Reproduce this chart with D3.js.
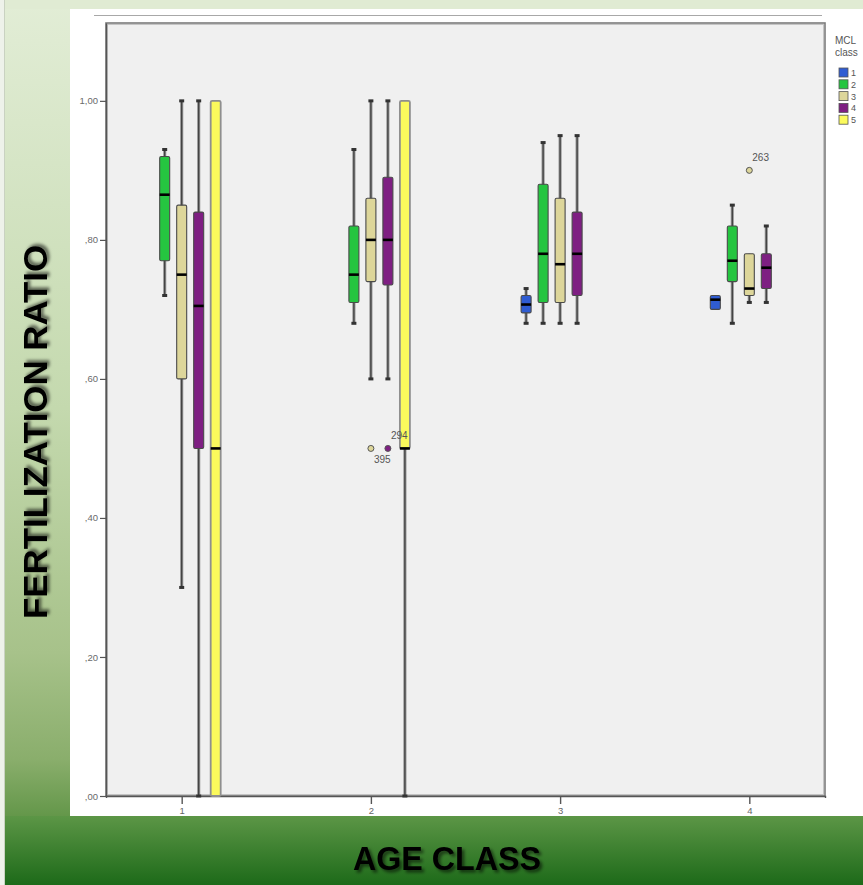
<!DOCTYPE html>
<html>
<head>
<meta charset="utf-8">
<script src="https://cdn.jsdelivr.net/npm/d3@7"></script>
<style>
  html, body { margin: 0; padding: 0; background: #ffffff; }
  svg { display: block; }
</style>
</head>
<body>
<svg id="chart" width="863" height="885"></svg>
<script>
// ---- data -------------------------------------------------------------
const ageClasses = ["1", "2", "3", "4"];
const mclClasses = ["1", "2", "3", "4", "5"];
const mclColors  = ["#2f5cd2", "#25c540", "#ddd69a", "#7e1f82", "#fbfa5c"];

// five-number summaries per age class: [min, q1, median, q3, max]
const mcl1Stats = [null, null, [0.68, 0.695, 0.707, 0.72, 0.73], [0.70, 0.70, 0.714, 0.72, 0.72]];
const mcl2Stats = [[0.72, 0.77, 0.865, 0.92, 0.93], [0.68, 0.71, 0.75, 0.82, 0.93], [0.68, 0.71, 0.78, 0.88, 0.94], [0.68, 0.74, 0.77, 0.82, 0.85]];
const mcl3Stats = [[0.30, 0.60, 0.75, 0.85, 1.00], [0.60, 0.74, 0.80, 0.86, 1.00], [0.68, 0.71, 0.765, 0.86, 0.95], [0.71, 0.72, 0.73, 0.78, 0.78]];
const mcl4Stats = [[0.00, 0.50, 0.705, 0.84, 1.00], [0.60, 0.735, 0.80, 0.89, 1.00], [0.68, 0.72, 0.78, 0.84, 0.95], [0.71, 0.73, 0.76, 0.78, 0.82]];
const mcl5Stats = [[0.00, 0.00, 0.50, 1.00, 1.00], [0.00, 0.50, 0.50, 1.00, 1.00], null, null];

// outlying cases
const outlierAge   = ["2", "2", "4"];
const outlierMcl   = ["3", "4", "3"];
const outlierValue = [0.50, 0.50, 0.90];
const outlierCase  = ["395", "294", "263"];

const yTickValues = [0, 0.2, 0.4, 0.6, 0.8, 1.0];

// ---- layout -----------------------------------------------------------
const svg = d3.select("#chart");
const W = 863, H = 885;
const plot = { left: 106, right: 825, top: 23, bottom: 796 };

const defs = svg.append("defs");
const sideGrad = defs.append("linearGradient").attr("id", "sideGrad")
  .attr("x1", 0).attr("y1", 0).attr("x2", 0).attr("y2", 1);
[[0, "#e2edd6"], [0.5, "#c4d9ae"], [0.8, "#a7c28a"], [0.93, "#8aae6c"], [1, "#64974a"]]
  .forEach(([o, c]) => sideGrad.append("stop").attr("offset", o).attr("stop-color", c));
const bandGrad = defs.append("linearGradient").attr("id", "bandGrad")
  .attr("x1", 0).attr("y1", 0).attr("x2", 0).attr("y2", 1);
[[0, "#5c9646"], [1, "#1d6a19"]]
  .forEach(([o, c]) => bandGrad.append("stop").attr("offset", o).attr("stop-color", c));
const shadow = defs.append("filter").attr("id", "titleShadow")
  .attr("x", "-20%").attr("y", "-20%").attr("width", "140%").attr("height", "160%");
shadow.append("feDropShadow").attr("dx", 2.5).attr("dy", 2.5)
  .attr("stdDeviation", 1.6).attr("flood-color", "#000").attr("flood-opacity", 0.55);

// background frame
svg.append("rect").attr("x", 0).attr("y", 0).attr("width", W).attr("height", 816)
  .attr("fill", "url(#sideGrad)");
svg.append("rect").attr("x", 0).attr("y", 0).attr("width", W).attr("height", 9)
  .attr("fill", "#e0ebd3");
svg.append("rect").attr("x", 70).attr("y", 9).attr("width", W - 70).attr("height", 807)
  .attr("fill", "#ffffff");
svg.append("rect").attr("x", 0).attr("y", 816).attr("width", W).attr("height", H - 816)
  .attr("fill", "url(#bandGrad)");
svg.append("rect").attr("x", 0).attr("y", 0).attr("width", 4).attr("height", H)
  .attr("fill", "#eef2ea");
svg.append("line").attr("x1", 4.5).attr("x2", 4.5).attr("y1", 0).attr("y2", H)
  .attr("stroke", "#c9d2c1").attr("stroke-width", 1);

// thin rule above the chart
svg.append("line").attr("x1", 94).attr("x2", 822).attr("y1", 15.5).attr("y2", 15.5)
  .attr("stroke", "#a8a8a8").attr("stroke-width", 1);

// ---- scales -----------------------------------------------------------
const x = d3.scalePoint().domain(ageClasses).range([plot.left, plot.right]).padding(0.4);
const sub = d3.scalePoint().domain(mclClasses).range([-34, 34]);
const y = d3.scaleLinear().domain([0, 1.112]).range([plot.bottom, plot.top]);

// plot panel
svg.append("rect").attr("x", plot.left).attr("y", plot.top)
  .attr("width", plot.right - plot.left).attr("height", plot.bottom - plot.top)
  .attr("fill", "#f0f0f0").attr("stroke", "#7c7c7c").attr("stroke-width", 1.6);
svg.append("rect").attr("x", plot.left + 1.5).attr("y", plot.top + 1.5)
  .attr("width", plot.right - plot.left - 3).attr("height", plot.bottom - plot.top - 3)
  .attr("fill", "none").attr("stroke", "#c4c4c4").attr("stroke-width", 1);

// ---- axes -------------------------------------------------------------
const fmtTick = d => {
  const s = d.toFixed(2).replace(".", ",");
  return s.startsWith("0,") ? s.slice(1) : s;
};
const yAxis = svg.append("g").attr("transform", `translate(${plot.left},0)`)
  .call(d3.axisLeft(y).tickValues(yTickValues).tickFormat(fmtTick)
    .tickSizeInner(6).tickSizeOuter(0).tickPadding(2));
yAxis.select(".domain").attr("stroke", "#555").attr("stroke-width", 1.4);
yAxis.selectAll(".tick line").attr("stroke", "#555").attr("stroke-width", 1.2);
yAxis.selectAll(".tick text").attr("fill", "#6a6a6a")
  .attr("font-family", "Liberation Sans, Arial, sans-serif").attr("font-size", 9.5);

const xAxis = svg.append("g").attr("transform", `translate(0,${plot.bottom})`)
  .call(d3.axisBottom(x).tickSizeInner(8).tickSizeOuter(2).tickPadding(3));
xAxis.select(".domain").attr("stroke", "#555").attr("stroke-width", 1.4);
xAxis.selectAll(".tick line").attr("stroke", "#555").attr("stroke-width", 1.4);
xAxis.selectAll(".tick text").attr("fill", "#666")
  .attr("font-family", "Liberation Sans, Arial, sans-serif").attr("font-size", 9.5);

// ---- boxes ------------------------------------------------------------
const allStats = [mcl1Stats, mcl2Stats, mcl3Stats, mcl4Stats, mcl5Stats];
const boxes = [];
allStats.forEach((series, mi) => {
  series.forEach((s, ai) => {
    if (!s) return;
    boxes.push({ age: ageClasses[ai], mcl: mclClasses[mi], color: mclColors[mi],
                 min: s[0], q1: s[1], med: s[2], q3: s[3], max: s[4] });
  });
});

const boxW = 10;
const cx = d => x(d.age) + sub(d.mcl);
const g = svg.append("g");

const bx = g.selectAll("g.box").data(boxes).join("g").attr("class", "box");
// whisker stem
bx.append("line")
  .attr("x1", cx).attr("x2", cx)
  .attr("y1", d => y(d.max)).attr("y2", d => y(d.min))
  .attr("stroke", "#9a9a9a").attr("stroke-width", 3.2);
bx.append("line")
  .attr("x1", cx).attr("x2", cx)
  .attr("y1", d => y(d.max)).attr("y2", d => y(d.min))
  .attr("stroke", "#444").attr("stroke-width", 1.4);
// whisker caps
["max", "min"].forEach(k => {
  bx.filter(d => d[k] !== d[k === "max" ? "q3" : "q1"])
    .append("line")
    .attr("x1", d => cx(d) - 2.5).attr("x2", d => cx(d) + 2.5)
    .attr("y1", d => y(d[k])).attr("y2", d => y(d[k]))
    .attr("stroke", "#333").attr("stroke-width", 3);
});
// box
bx.append("rect")
  .attr("x", d => cx(d) - boxW / 2).attr("width", boxW)
  .attr("y", d => y(d.q3)).attr("height", d => Math.max(1, y(d.q1) - y(d.q3)))
  .attr("rx", 1.5)
  .attr("fill", d => d.color)
  .attr("stroke", d => d.mcl === "5" ? "#8f8f8f" : "#4a4a4a")
  .attr("stroke-width", d => d.mcl === "5" ? 1.8 : 1.1);
// median
bx.append("line")
  .attr("x1", d => cx(d) - boxW / 2).attr("x2", d => cx(d) + boxW / 2)
  .attr("y1", d => y(d.med)).attr("y2", d => y(d.med))
  .attr("stroke", "#000").attr("stroke-width", 2.6);

// ---- outliers ---------------------------------------------------------
const outliers = outlierValue.map((v, i) => ({
  age: outlierAge[i], mcl: outlierMcl[i], value: v, label: outlierCase[i],
  color: mclColors[mclClasses.indexOf(outlierMcl[i])]
}));
// case labels sit above-right of the point, except the first which sits below
const labelOffset = i => i === 0 ? [3, 15] : [3, -9];
const og = svg.append("g");
og.selectAll("circle").data(outliers).join("circle")
  .attr("cx", cx).attr("cy", d => y(d.value)).attr("r", 3)
  .attr("fill", d => d.color).attr("stroke", "#555").attr("stroke-width", 1);
og.selectAll("text").data(outliers).join("text")
  .attr("x", (d, i) => cx(d) + labelOffset(i)[0])
  .attr("y", (d, i) => y(d.value) + labelOffset(i)[1])
  .attr("fill", "#555").attr("font-family", "Liberation Sans, Arial, sans-serif")
  .attr("font-size", 10).text(d => d.label);

// ---- legend -----------------------------------------------------------
const lg = svg.append("g").attr("font-family", "Liberation Sans, Arial, sans-serif")
  .attr("font-size", 10).attr("fill", "#555");
lg.append("text").attr("x", 835).attr("y", 44).text("MCL");
lg.append("text").attr("x", 835).attr("y", 56).text("class");
const li = lg.selectAll("g.item").data(mclClasses).join("g").attr("class", "item")
  .attr("transform", (d, i) => `translate(839,${68 + i * 11.8})`);
li.append("rect").attr("width", 9).attr("height", 9)
  .attr("fill", (d, i) => mclColors[i]).attr("stroke", "#555").attr("stroke-width", 0.8);
li.append("text").attr("x", 12).attr("y", 8).attr("font-size", 9).text(d => d);

// ---- axis titles --------------------------------------------------------
svg.append("text")
  .attr("transform", "translate(47,432) rotate(-90)")
  .attr("text-anchor", "middle")
  .attr("font-family", "Liberation Sans Narrow, Liberation Sans, Arial, sans-serif")
  .attr("font-weight", "bold").attr("font-size", 34).attr("fill", "#000")
  .attr("textLength", 374).attr("lengthAdjust", "spacingAndGlyphs")
  .attr("filter", "url(#titleShadow)")
  .text("FERTILIZATION RATIO");
svg.append("text")
  .attr("x", 447).attr("y", 870)
  .attr("text-anchor", "middle")
  .attr("font-family", "Liberation Sans Narrow, Liberation Sans, Arial, sans-serif")
  .attr("font-weight", "bold").attr("font-size", 34).attr("fill", "#000")
  .attr("textLength", 188).attr("lengthAdjust", "spacingAndGlyphs")
  .attr("filter", "url(#titleShadow)")
  .text("AGE CLASS");
</script>
</body>
</html>
